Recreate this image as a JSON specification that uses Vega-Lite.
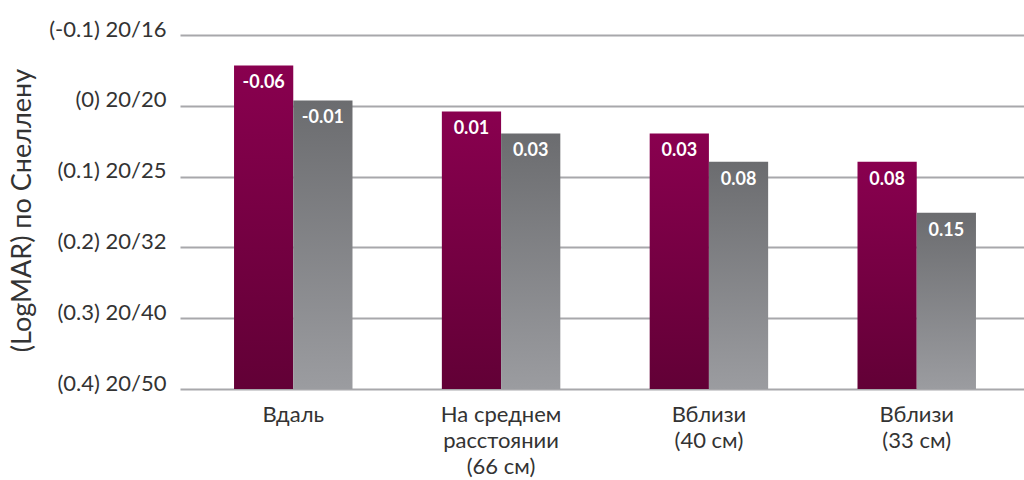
{
  "$schema": "https://vega.github.io/schema/vega-lite/v6.json",
  "width": 850,
  "height": 354,
  "autosize": "none",
  "padding": {"left": 180, "top": 35, "right": 0, "bottom": 91},
  "background": "white",
  "config": {"view": {"stroke": null}, "font": "Lato"},
  "data": {"values": [
    {"cat": "Вдаль", "s": "a", "v": -0.057, "lbl": "-0.06"},
    {"cat": "Вдаль", "s": "b", "v": -0.0075, "lbl": "-0.01"},
    {"cat": "На среднем|расстоянии|(66 см)", "s": "a", "v": 0.008, "lbl": "0.01"},
    {"cat": "На среднем|расстоянии|(66 см)", "s": "b", "v": 0.039, "lbl": "0.03"},
    {"cat": "Вблизи|(40 см)", "s": "a", "v": 0.039, "lbl": "0.03"},
    {"cat": "Вблизи|(40 см)", "s": "b", "v": 0.079, "lbl": "0.08"},
    {"cat": "Вблизи|(33 см)", "s": "a", "v": 0.079, "lbl": "0.08"},
    {"cat": "Вблизи|(33 см)", "s": "b", "v": 0.151, "lbl": "0.15"}
  ]},
  "encoding": {
    "x": {"field": "cat", "type": "nominal", "sort": null,
      "scale": {"paddingInner": 0.43, "paddingOuter": 0.26},
      "axis": {"title": null, "labelAngle": 0, "domain": false, "ticks": false,
        "labelExpr": "split(datum.label, '|')", "labelFontSize": 22, "labelColor": "#333333",
        "labelLineHeight": 26, "labelPadding": 15, "labelBaseline": "top", "labelFont": "Lato"}},
    "xOffset": {"field": "s", "type": "nominal", "scale": {"paddingInner": 0, "paddingOuter": 0}},
    "y": {"field": "v", "type": "quantitative",
      "scale": {"domain": [-0.1, 0.4], "reverse": true, "nice": false, "zero": false},
      "axis": {"values": [-0.1, 0, 0.1, 0.2, 0.3, 0.4], "domain": false, "ticks": false,
        "grid": true, "gridColor": "#a8a8ab", "gridWidth": 2,
        "labelExpr": "{'-0.1':'(-0.1) 20/16','0':'(0) 20/20','0.1':'(0.1) 20/25','0.2':'(0.2) 20/32','0.3':'(0.3) 20/40','0.4':'(0.4) 20/50'}[toString(datum.value)]",
        "labelFontSize": 22, "labelColor": "#333333", "labelPadding": 14, "labelOffset": -6,
        "title": "(LogMAR) по Снеллену", "titleFontSize": 27, "titleFontWeight": "normal",
        "titleColor": "#333333", "titleX": -158, "titleY": 175, "titleAngle": -90,
        "titleBaseline": "middle", "titleAlign": "center"}}
  },
  "layer": [
    {
      "transform": [{"filter": "datum.s == 'a'"}],
      "mark": {"type": "bar",
        "color": {"gradient": "linear", "x1": 0, "y1": 0, "x2": 0, "y2": 1,
          "stops": [{"offset": 0, "color": "#89004f"}, {"offset": 1, "color": "#620036"}]}},
      "encoding": {"y2": {"datum": 0.4}}
    },
    {
      "transform": [{"filter": "datum.s == 'b'"}],
      "mark": {"type": "bar",
        "color": {"gradient": "linear", "x1": 0, "y1": 0, "x2": 0, "y2": 1,
          "stops": [{"offset": 0, "color": "#6b6c6f"}, {"offset": 1, "color": "#9b9ca0"}]}},
      "encoding": {"y2": {"datum": 0.4}}
    },
    {
      "mark": {"type": "text", "color": "white", "fontWeight": "bold", "fontSize": 18,
        "baseline": "middle", "dy": 18, "font": "Lato"},
      "encoding": {"text": {"field": "lbl"}}
    }
  ]
}
